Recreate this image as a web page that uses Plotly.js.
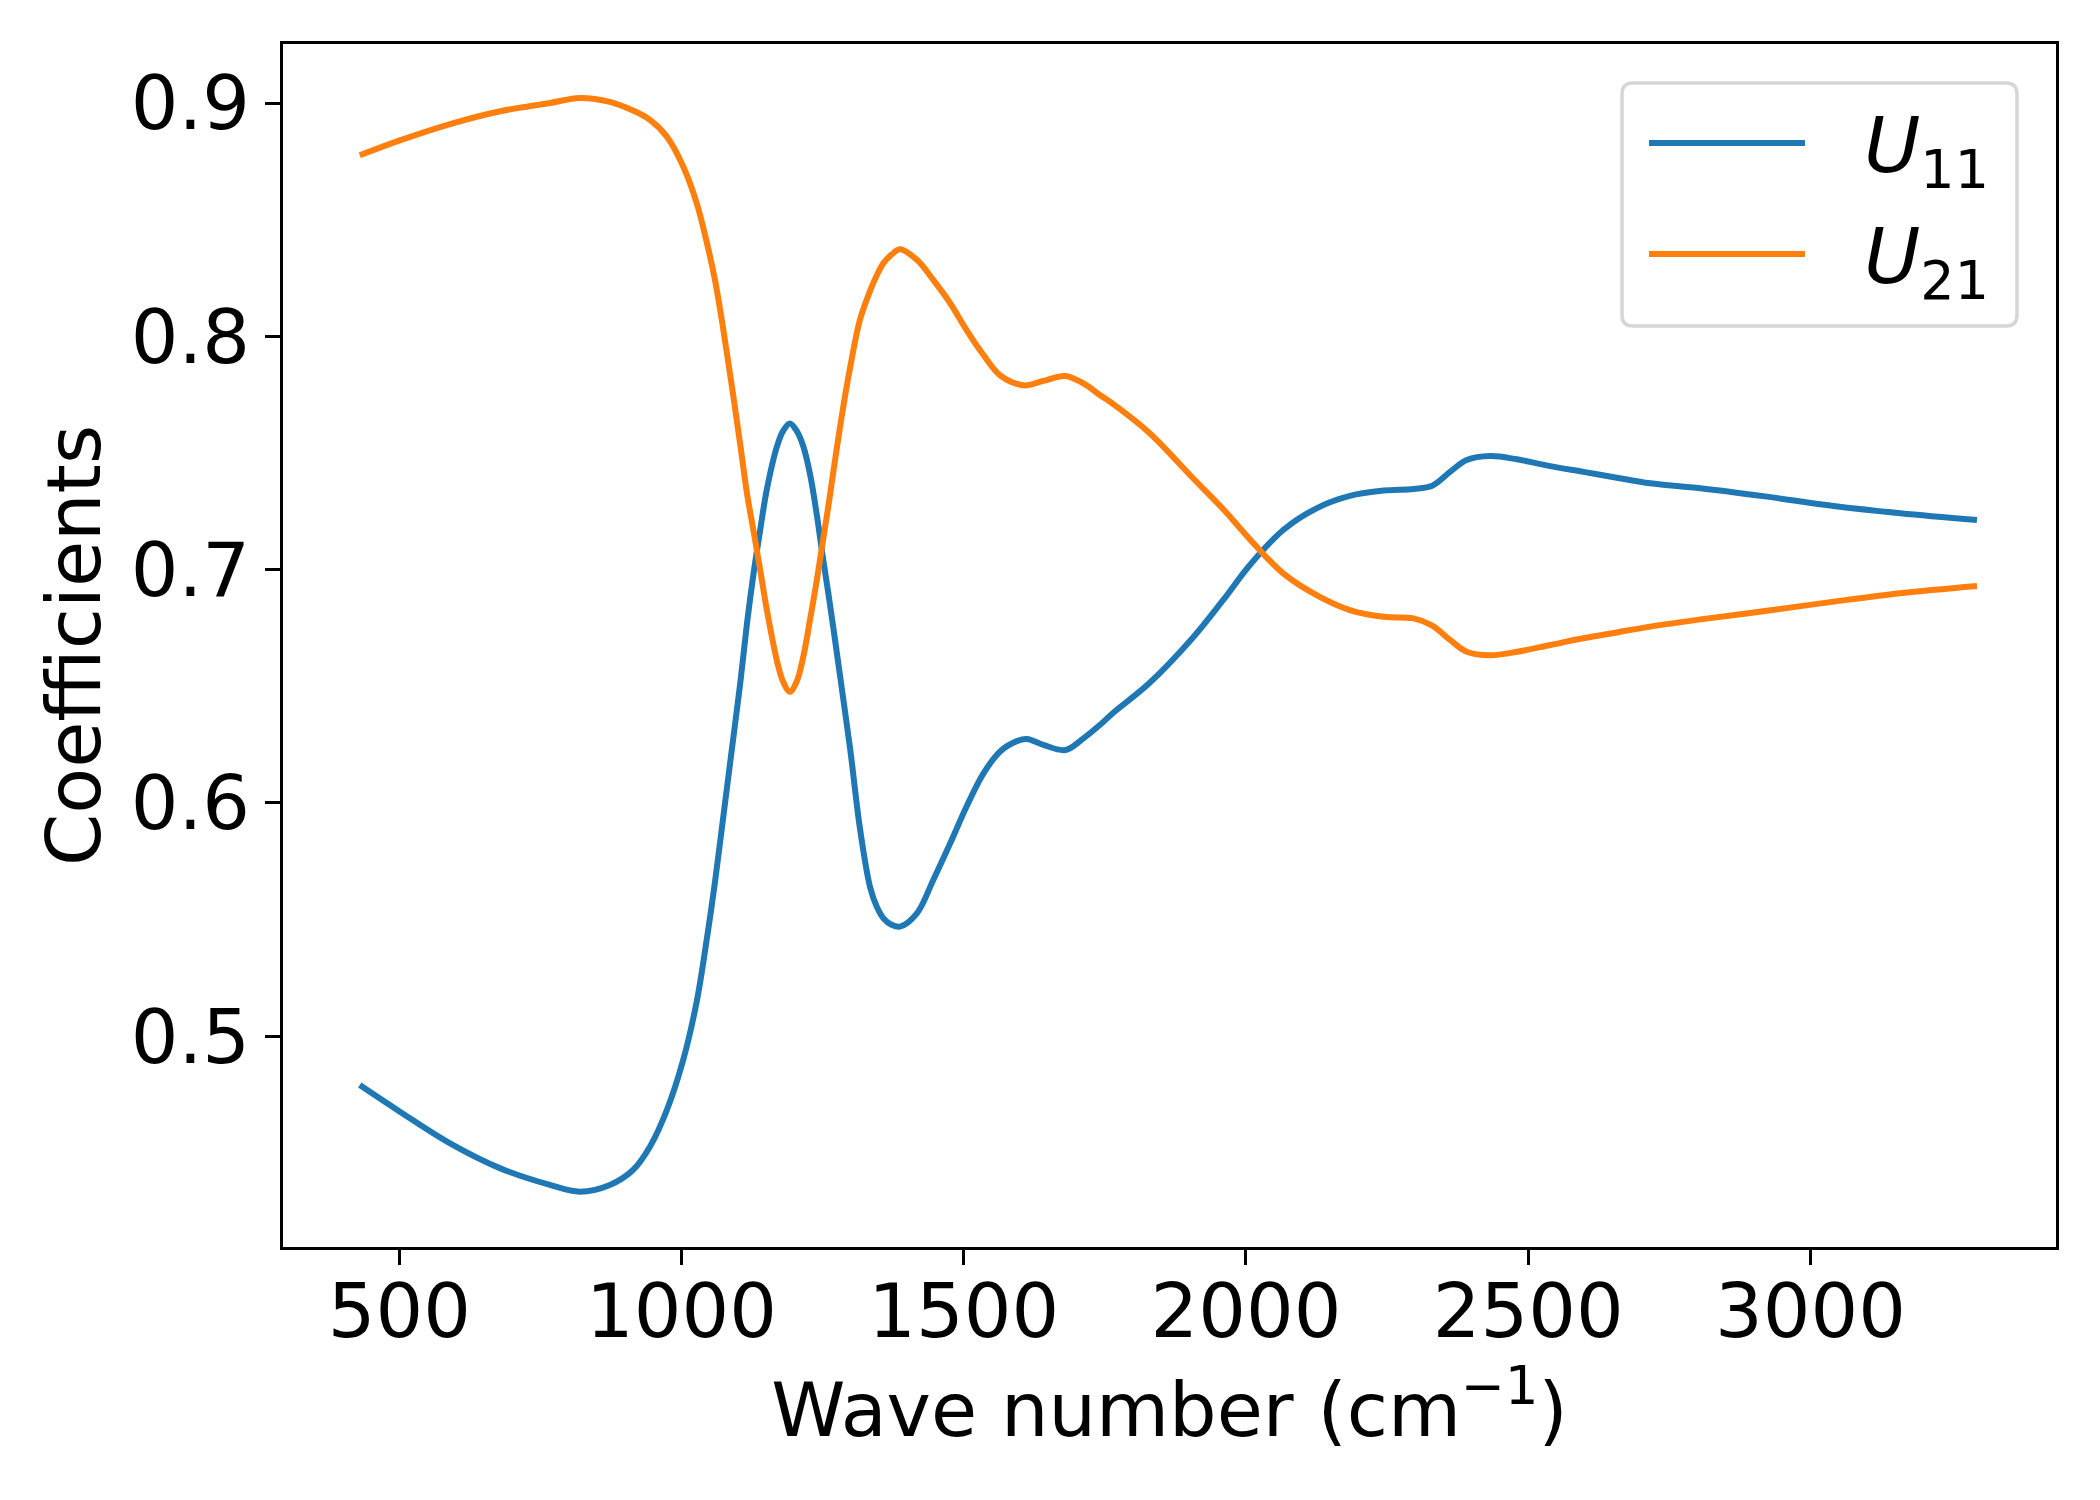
<!DOCTYPE html>
<html>
<head>
<meta charset="utf-8">
<script src="https://cdn.plot.ly/plotly-3.0.1.min.js"></script>
<style>html,body{margin:0;padding:0;background:#fff;}#chart{width:2100px;height:1500px;}</style>
</head>
<body>
<div id="chart"></div>
<script>
// Wave number (cm^-1)
const waveNumber = [430, 501, 590, 679, 767, 820, 873, 914, 944, 974, 1003, 1027, 1045, 1059, 1074, 1089, 1104, 1116, 1128, 1140, 1151, 1169, 1180, 1192, 1204, 1216, 1228, 1240, 1250, 1260, 1269, 1284, 1299, 1316, 1334, 1346, 1358, 1372, 1387, 1417, 1446, 1476, 1505, 1535, 1564, 1594, 1612, 1641, 1680, 1712, 1741, 1764, 1829, 1905, 1959, 2007, 2066, 2125, 2184, 2244, 2297, 2330, 2362, 2391, 2433, 2480, 2539, 2598, 2657, 2716, 2805, 2923, 3041, 3159, 3295];
// U11 coefficients (blue)
const u11 = [0.4791, 0.4677, 0.4541, 0.4434, 0.4363, 0.4334, 0.4363, 0.4427, 0.4527, 0.4684, 0.4899, 0.5150, 0.5420, 0.5656, 0.5941, 0.6227, 0.6513, 0.6770, 0.6990, 0.7180, 0.7342, 0.7527, 0.7595, 0.7627, 0.7595, 0.7527, 0.7405, 0.7230, 0.7060, 0.6900, 0.6750, 0.6490, 0.6227, 0.5893, 0.5640, 0.5555, 0.5505, 0.5478, 0.5470, 0.5527, 0.5670, 0.5827, 0.5985, 0.6127, 0.6220, 0.6265, 0.6274, 0.6249, 0.6227, 0.6277, 0.6334, 0.6385, 0.6514, 0.6706, 0.6868, 0.7020, 0.7170, 0.7263, 0.7316, 0.7339, 0.7346, 0.7360, 0.7420, 0.7470, 0.7487, 0.7473, 0.7444, 0.7419, 0.7394, 0.7370, 0.7349, 0.7313, 0.7273, 0.7242, 0.7213];
// U21 coefficients (orange)
const u21 = [0.8776, 0.8840, 0.8910, 0.8965, 0.9000, 0.9022, 0.9005, 0.8968, 0.8928, 0.8856, 0.8728, 0.8570, 0.8400, 0.8245, 0.8030, 0.7790, 0.7537, 0.7327, 0.7160, 0.6990, 0.6830, 0.6610, 0.6520, 0.6477, 0.6520, 0.6630, 0.6790, 0.6960, 0.7115, 0.7270, 0.7420, 0.7660, 0.7870, 0.8070, 0.8195, 0.8262, 0.8315, 0.8350, 0.8373, 0.8328, 0.8242, 0.8142, 0.8027, 0.7920, 0.7834, 0.7796, 0.7790, 0.7809, 0.7830, 0.7798, 0.7749, 0.7711, 0.7586, 0.7395, 0.7261, 0.7130, 0.6984, 0.6891, 0.6827, 0.6798, 0.6791, 0.6760, 0.6698, 0.6648, 0.6633, 0.6648, 0.6677, 0.6706, 0.6731, 0.6756, 0.6787, 0.6824, 0.6863, 0.6899, 0.6930];
const seriesNames = ['<i>U</i><sub>11</sub>', '<i>U</i><sub>21</sub>'];
const seriesColors = ['#1f77b4', '#ff7f0e'];
const xTickVals = [500, 1000, 1500, 2000, 2500, 3000];
const yTickVals = [0.5, 0.6, 0.7, 0.8, 0.9];

const font = 'DejaVu Sans, sans-serif';
const traces = [
  {x: waveNumber, y: u11, name: seriesNames[0], type: 'scatter', mode: 'lines',
   line: {color: seriesColors[0], width: 6, shape: 'spline', smoothing: 1}},
  {x: waveNumber, y: u21, name: seriesNames[1], type: 'scatter', mode: 'lines',
   line: {color: seriesColors[1], width: 6, shape: 'spline', smoothing: 1}}
];

// Legend drawn as a framed box (matplotlib style) in paper coordinates
const plotL = 283, plotR = 2056, plotT = 44, plotB = 1247;
const pw = plotR - plotL, ph = plotB - plotT;
const px = v => (v - plotL) / pw;
const py = v => (plotB - v) / ph;
const bx0 = px(1622), bx1 = px(2017), by0 = py(326), by1 = py(83);
const rx = 11 / pw, ry = 11 / ph;
const boxPath = `M${bx0 + rx},${by0} L${bx1 - rx},${by0} Q${bx1},${by0} ${bx1},${by0 + ry} ` +
  `L${bx1},${by1 - ry} Q${bx1},${by1} ${bx1 - rx},${by1} L${bx0 + rx},${by1} ` +
  `Q${bx0},${by1} ${bx0},${by1 - ry} L${bx0},${by0 + ry} Q${bx0},${by0} ${bx0 + rx},${by0} Z`;
const legendRowsY = [143, 254];
const shapes = [
  {type: 'path', xref: 'paper', yref: 'paper', path: boxPath,
   fillcolor: '#ffffff', line: {color: '#d6d6d6', width: 3.5}, layer: 'above'}
];
const annotations = [];
seriesNames.forEach((nm, i) => {
  shapes.push({type: 'line', xref: 'paper', yref: 'paper', x0: px(1649), x1: px(1805),
    y0: py(legendRowsY[i]), y1: py(legendRowsY[i]), line: {color: seriesColors[i], width: 6}, layer: 'above'});
  annotations.push({xref: 'paper', yref: 'paper', x: px(1862), y: py(legendRowsY[i] + 8),
    xanchor: 'left', yanchor: 'middle', showarrow: false, text: nm,
    font: {family: font, size: 77, color: '#000'}});
});

const layout = {
  width: 2100, height: 1500,
  margin: {l: plotL, r: 2100 - plotR, t: plotT, b: 1500 - plotB},
  paper_bgcolor: '#ffffff', plot_bgcolor: '#ffffff',
  font: {family: font, size: 75, color: '#000'},
  showlegend: false,
  shapes: shapes,
  annotations: annotations,
  xaxis: {range: [294, 3435], tickvals: xTickVals, ticktext: xTickVals.map(String),
    ticks: 'outside', ticklen: 15, tickwidth: 3, tickcolor: '#000', ticklabelstandoff: -18,
    showgrid: false, zeroline: false, showline: true, linecolor: '#000', linewidth: 3, mirror: true,
    tickfont: {family: font, size: 75, color: '#000'},
    title: {text: 'Wave number (cm<sup>\u22121</sup>)', font: {family: font, size: 75, color: '#000'}, standoff: 10}},
  yaxis: {range: [0.4097, 0.9253], tickvals: yTickVals, ticktext: yTickVals.map(v => v.toFixed(1)),
    ticks: 'outside', ticklen: 15, tickwidth: 3, tickcolor: '#000',
    showgrid: false, zeroline: false, showline: true, linecolor: '#000', linewidth: 3, mirror: true,
    tickfont: {family: font, size: 75, color: '#000'},
    title: {text: 'Coefficients', font: {family: font, size: 75, color: '#000'}, standoff: 6}}
};
Plotly.newPlot('chart', traces, layout, {displayModeBar: false, staticPlot: true});
</script>
</body>
</html>
